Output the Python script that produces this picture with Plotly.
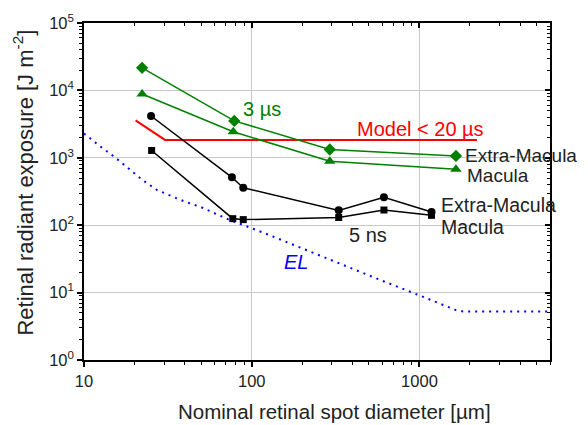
import numpy as np
import plotly.graph_objects as go

# ---- data ----
x_em3 = [22.2, 78.7, 292, 1650]          # Extra-Macula, 3 µs (diamonds)
y_em3 = [21600, 3530, 1330, 1067]
x_m3 = [22.2, 77.6, 292, 1650]           # Macula, 3 µs (triangles)
y_m3 = [8830, 2430, 889, 679]
x_em5 = [25.1, 76.2, 89, 330, 614, 1180]  # Extra-Macula, 5 ns (circles)
y_em5 = [4170, 514, 359, 166, 260, 157]
x_m5 = [25.3, 77.1, 89, 330, 614, 1180]   # Macula, 5 ns (squares)
y_m5 = [1285, 125, 121, 130, 168, 140]
x_model = [20.3, 30.4, 2200]              # Model < 20 µs
y_model = [3600, 1840, 1840]
x_el = [10, 12.3, 15.2, 18.5, 22.3, 27.2, 33, 40.2, 49.2, 72, 118, 192, 345, 621, 1110, 1650, 1820, 6000]
y_el = [2300, 1520, 1030, 696, 470, 333, 275, 222, 188, 123, 77, 47, 26.2, 14.5, 8.2, 5.5, 5.25, 5.25]

x_major = [10, 100, 1000]
x_labels = ["10", "100", "1000"]
y_major = [1, 10, 100, 1000, 10000, 100000]
y_labels = ["10<sup>0</sup>", "10<sup>1</sup>", "10<sup>2</sup>", "10<sup>3</sup>", "10<sup>4</sup>", "10<sup>5</sup>"]
x_minor = [m * 10 ** e for e in range(1, 4) for m in range(2, 10) if m * 10 ** e <= 6000]
y_minor = [m * 10 ** e for e in range(0, 5) for m in range(2, 10)]

GREEN = "#008000"
FONT = "Arial, Liberation Sans, sans-serif"
TXT = "#222222"

fig = go.Figure()

fig.add_trace(go.Scatter(x=x_el, y=y_el, mode="lines",
                         line=dict(color="#0000ff", width=2, dash="2px,5px"), showlegend=False))
fig.add_trace(go.Scatter(x=x_model, y=y_model, mode="lines",
                         line=dict(color="#ff0000", width=2), showlegend=False))
fig.add_trace(go.Scatter(x=x_em3, y=y_em3, mode="lines+markers",
                         line=dict(color=GREEN, width=1.5),
                         marker=dict(symbol="diamond", size=9.5, color=GREEN), showlegend=False))
fig.add_trace(go.Scatter(x=x_m3, y=y_m3, mode="lines+markers",
                         line=dict(color=GREEN, width=1.5),
                         marker=dict(symbol="triangle-up", size=10, color=GREEN), showlegend=False))
fig.add_trace(go.Scatter(x=x_em5, y=y_em5, mode="lines+markers",
                         line=dict(color="black", width=1.5),
                         marker=dict(symbol="circle", size=8, color="black"), showlegend=False))
fig.add_trace(go.Scatter(x=x_m5, y=y_m5, mode="lines+markers",
                         line=dict(color="black", width=1.5),
                         marker=dict(symbol="square", size=7, color="black"), showlegend=False))
# invisible helper trace so the mirrored (top/right) axes are drawn
fig.add_trace(go.Scatter(x=x_el, y=y_el, xaxis="x2", yaxis="y2", mode="lines",
                         line=dict(width=0), opacity=0, hoverinfo="skip", showlegend=False))

xr = [1, np.log10(6000)]
yr = [0, 5]
common = dict(type="log", showline=True, linecolor="black", linewidth=1.5,
              tickcolor="black", tickwidth=1.5, ticklen=5, zeroline=False)

fig.update_layout(
    width=588, height=425,
    margin=dict(l=84, r=38, t=17, b=65),
    paper_bgcolor="white", plot_bgcolor="white",
    font=dict(family=FONT, color=TXT),
    xaxis=dict(range=xr, tickmode="array", tickvals=x_major, ticktext=x_labels,
               ticks="outside", showgrid=True, gridcolor="#c8c8c8", gridwidth=1.2,
               tickfont=dict(size=16.5, color=TXT),
               minor=dict(tickmode="array", tickvals=x_minor, ticks="outside",
                          ticklen=3, tickwidth=1, tickcolor="black", showgrid=False),
               **common),
    yaxis=dict(range=yr, tickmode="array", tickvals=y_major, ticktext=y_labels,
               ticks="outside", showgrid=True, gridcolor="#c8c8c8", gridwidth=1.2,
               tickfont=dict(size=16.5, color=TXT),
               minor=dict(tickmode="array", tickvals=y_minor, ticks="outside",
                          ticklen=3, tickwidth=1, tickcolor="black", showgrid=False),
               **common),
    xaxis2=dict(range=xr, overlaying="x", side="top", anchor="y",
                tickmode="array", tickvals=x_major, ticks="inside", showticklabels=False,
                showgrid=False,
                minor=dict(tickmode="array", tickvals=x_minor, ticks="inside",
                           ticklen=3, tickwidth=1, tickcolor="black", showgrid=False),
                **common),
    yaxis2=dict(range=yr, overlaying="y", side="right", anchor="x",
                tickmode="array", tickvals=y_major, ticks="inside", showticklabels=False,
                showgrid=False,
                minor=dict(tickmode="array", tickvals=y_minor, ticks="inside",
                           ticklen=3, tickwidth=1, tickcolor="black", showgrid=False),
                **common),
)

def label(text, x, y, color, size=20, italic=False):
    fig.add_annotation(text=f"<i>{text}</i>" if italic else text,
                       xref="paper", yref="paper", x=x, y=y,
                       xanchor="left", yanchor="middle", showarrow=False,
                       font=dict(family=FONT, size=size, color=color))

label("3 µs", 0.337, 0.746, GREEN)
label("Model < 20 µs", 0.5815, 0.685, "#ff0000")
label("Extra-Macula", 0.813, 0.606, TXT, size=19)
label("Macula", 0.818, 0.548, TXT, size=19)
label("Extra-Macula", 0.762, 0.461, TXT, size=19.5)
label("Macula", 0.762, 0.394, TXT, size=19.5)
label("5 ns", 0.564, 0.370, TXT)
label("EL", 0.425, 0.292, "#0000ff", italic=True)

# axis titles
fig.add_annotation(text="Nominal retinal spot diameter [µm]", xref="paper", yref="paper",
                   x=0.5365, y=-0.1516, xanchor="center", yanchor="middle", showarrow=False,
                   font=dict(family=FONT, size=20.5, color=TXT))
fig.add_annotation(text="Retinal radiant exposure [J m<sup>-2</sup>]", xref="paper", yref="paper",
                   x=-0.1298, y=0.525, xanchor="center", yanchor="middle", textangle=-90,
                   showarrow=False, font=dict(family=FONT, size=22, color=TXT))

fig.write_html("out.html")
